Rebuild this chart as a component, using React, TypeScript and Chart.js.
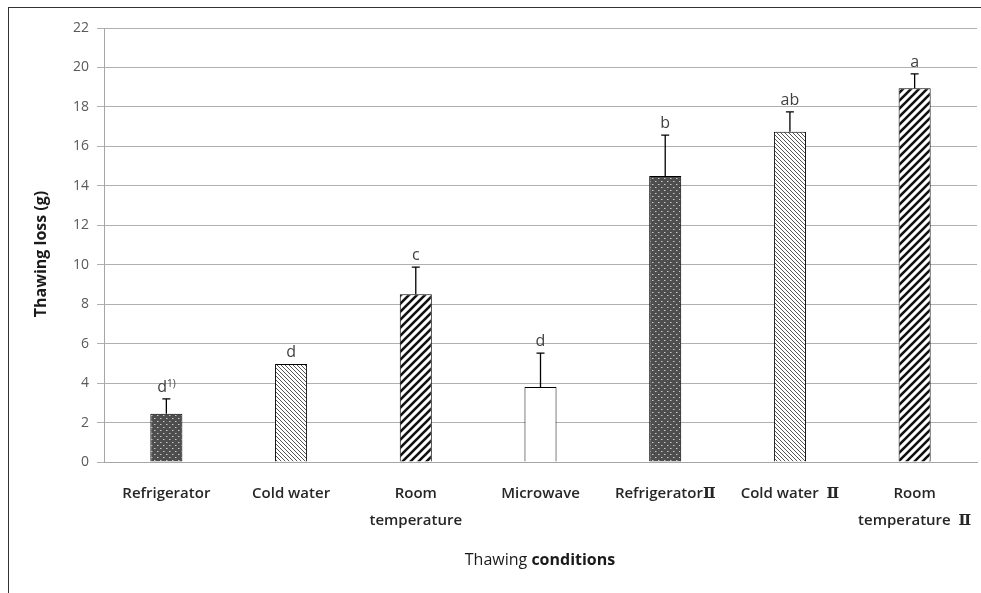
import React, { useEffect, useRef } from "react";
import { Chart, registerables } from "chart.js";

Chart.register(...registerables);

const categories: string[][] = [
  ["Refrigerator"],
  ["Cold water"],
  ["Room", "temperature"],
  ["Microwave"],
  ["RefrigeratorⅡ"],
  ["Cold water  Ⅱ"],
  ["Room", "temperature  Ⅱ"],
];
const means = [2.45, 4.97, 8.5, 3.8, 14.5, 16.74, 18.94];
const errors = [0.75, 0, 1.38, 1.72, 2.07, 1.01, 0.73];
const letters = ["d", "d", "c", "d", "b", "ab", "a"];
const superscripts = ["1)", "", "", "", "", "", ""];
const patternKinds = ["dots", "thin", "bold", "none", "dots", "thin", "bold"];
const yMin = 0;
const yMax = 22;
const yStep = 2;
const xTitleRegular = "Thawing ";
const xTitleBold = "conditions";
const yTitle = "Thawing loss (g)";

function makePattern(kind: string): CanvasPattern | string {
  if (kind === "none") return "#ffffff";
  const c = document.createElement("canvas");
  const ctx = c.getContext("2d")!;
  if (kind === "dots") {
    c.width = 6;
    c.height = 6;
    ctx.fillStyle = "#4e4e4e";
    ctx.fillRect(0, 0, 6, 6);
    ctx.fillStyle = "#c8c8c8";
    ctx.fillRect(1, 1, 1, 1);
    ctx.fillRect(4, 4, 1, 1);
    ctx.fillStyle = "#8a8a8a";
    ctx.fillRect(2, 1, 1, 1);
    ctx.fillRect(5, 4, 1, 1);
  } else if (kind === "thin") {
    const s = 4;
    c.width = s;
    c.height = s;
    ctx.fillStyle = "#ffffff";
    ctx.fillRect(0, 0, s, s);
    ctx.strokeStyle = "#555555";
    ctx.lineWidth = 1;
    ctx.beginPath();
    ctx.moveTo(-1, -1);
    ctx.lineTo(s + 1, s + 1);
    ctx.moveTo(-1, s - 1);
    ctx.lineTo(1, s + 1);
    ctx.moveTo(s - 1, -1);
    ctx.lineTo(s + 1, 1);
    ctx.stroke();
  } else {
    const s = 8;
    c.width = s;
    c.height = s;
    ctx.fillStyle = "#ffffff";
    ctx.fillRect(0, 0, s, s);
    ctx.strokeStyle = "#111111";
    ctx.lineWidth = 2.6;
    ctx.beginPath();
    ctx.moveTo(-1, s + 1);
    ctx.lineTo(s + 1, -1);
    ctx.moveTo(-1, 1);
    ctx.lineTo(1, -1);
    ctx.moveTo(s - 1, s + 1);
    ctx.lineTo(s + 1, s - 1);
    ctx.stroke();
  }
  return ctx.createPattern(c, "repeat")!;
}

const FONT = "'Open Sans', 'Noto Sans', sans-serif";
const LABEL_FONT = "'Open Sans', 'DejaVu Serif', serif";

const annotPlugin = {
  id: "annot",
  afterDatasetsDraw(chart: any) {
    const ctx = chart.ctx as CanvasRenderingContext2D;
    const meta = chart.getDatasetMeta(0);
    const yScale = chart.scales.y;
    ctx.save();
    meta.data.forEach((el: any, i: number) => {
      const x = el.x;
      const top = yScale.getPixelForValue(means[i] + errors[i]);
      if (errors[i] > 0) {
        ctx.strokeStyle = "#000";
        ctx.lineWidth = 1.3;
        ctx.beginPath();
        ctx.moveTo(x, el.y);
        ctx.lineTo(x, top);
        ctx.moveTo(x - 4, top);
        ctx.lineTo(x + 4, top);
        ctx.stroke();
      }
      ctx.fillStyle = "#404040";
      ctx.font = `16px ${FONT}`;
      const w1 = ctx.measureText(letters[i]).width;
      ctx.font = `10px ${FONT}`;
      const w2 = superscripts[i] ? ctx.measureText(superscripts[i]).width : 0;
      const start = x - (w1 + w2) / 2;
      const base = top - 7;
      ctx.textBaseline = "alphabetic";
      ctx.textAlign = "left";
      ctx.font = `16px ${FONT}`;
      ctx.fillText(letters[i], start, base);
      if (superscripts[i]) {
        ctx.font = `10px ${FONT}`;
        ctx.fillText(superscripts[i], start + w1, base - 5);
      }
    });
    ctx.restore();
  },
  afterDraw(chart: any) {
    const ctx = chart.ctx as CanvasRenderingContext2D;
    ctx.save();
    ctx.fillStyle = "#1a1a1a";
    ctx.textBaseline = "middle";
    // x title
    ctx.font = `16px ${FONT}`;
    const wa = ctx.measureText(xTitleRegular).width;
    ctx.font = `bold 16px ${FONT}`;
    const wb = ctx.measureText(xTitleBold).width;
    const cx = 540;
    const sx = cx - (wa + wb) / 2;
    ctx.textAlign = "left";
    ctx.font = `16px ${FONT}`;
    ctx.fillText(xTitleRegular, sx, 560);
    ctx.font = `bold 16px ${FONT}`;
    ctx.fillText(xTitleBold, sx + wa, 560);
    // y title
    ctx.translate(41, 254);
    ctx.rotate(-Math.PI / 2);
    ctx.textAlign = "center";
    ctx.font = `bold 16px ${FONT}`;
    ctx.fillText(yTitle, 0, 0);
    ctx.restore();
  },
};

export default function App() {
  const ref = useRef<HTMLCanvasElement>(null);
  useEffect(() => {
    const canvas = ref.current!;
    const chart = new Chart(canvas, {
      type: "bar",
      data: {
        labels: categories,
        datasets: [
          {
            data: means,
            backgroundColor: patternKinds.map(makePattern) as any,
            borderColor: "#000000",
            borderWidth: 1,
            borderSkipped: "bottom",
            barPercentage: 0.257,
            categoryPercentage: 1,
          },
        ],
      },
      options: {
        responsive: false,
        animation: false,
        events: [],
        layout: { padding: { top: 28, right: 4, left: 0, bottom: 0 } },
        plugins: {
          legend: { display: false },
          tooltip: { enabled: false },
          title: { display: false },
        },
        scales: {
          x: {
            afterFit: (s: any) => {
              s.height = 131;
              s.paddingLeft = 0;
              s.paddingRight = 0;
            },
            grid: { display: false, drawTicks: false },
            border: { display: true, color: "#a6a6a6", width: 1 },
            ticks: {
              autoSkip: false,
              maxRotation: 0,
              minRotation: 0,
              padding: 18,
              color: "#262626",
              font: { family: LABEL_FONT, size: 15, weight: "600" as any, lineHeight: 1.8 },
            },
          },
          y: {
            min: yMin,
            max: yMax,
            afterFit: (s: any) => {
              s.width = 104;
            },
            grid: { color: "#b0b0b0", lineWidth: 1, tickLength: 7, drawTicks: true },
            border: { display: true, color: "#a6a6a6", width: 1 },
            ticks: {
              stepSize: yStep,
              padding: 8,
              color: "#595959",
              font: { family: FONT, size: 14 },
            },
          },
        },
      },
      plugins: [annotPlugin],
    });
    return () => chart.destroy();
  }, []);
  return (
    <div style={{ position: "absolute", left: 0, top: 0, width: 981, height: 593, background: "#fff" }}>
      <div
        style={{
          position: "absolute",
          left: 8,
          top: 7,
          width: 973,
          height: 586,
          borderLeft: "1px solid #333",
          borderTop: "1px solid #333",
          boxSizing: "border-box",
        }}
      />
      <canvas
        ref={ref}
        width={981}
        height={593}
        style={{ position: "absolute", left: 0, top: 0, display: "block" }}
      />
    </div>
  );
}
